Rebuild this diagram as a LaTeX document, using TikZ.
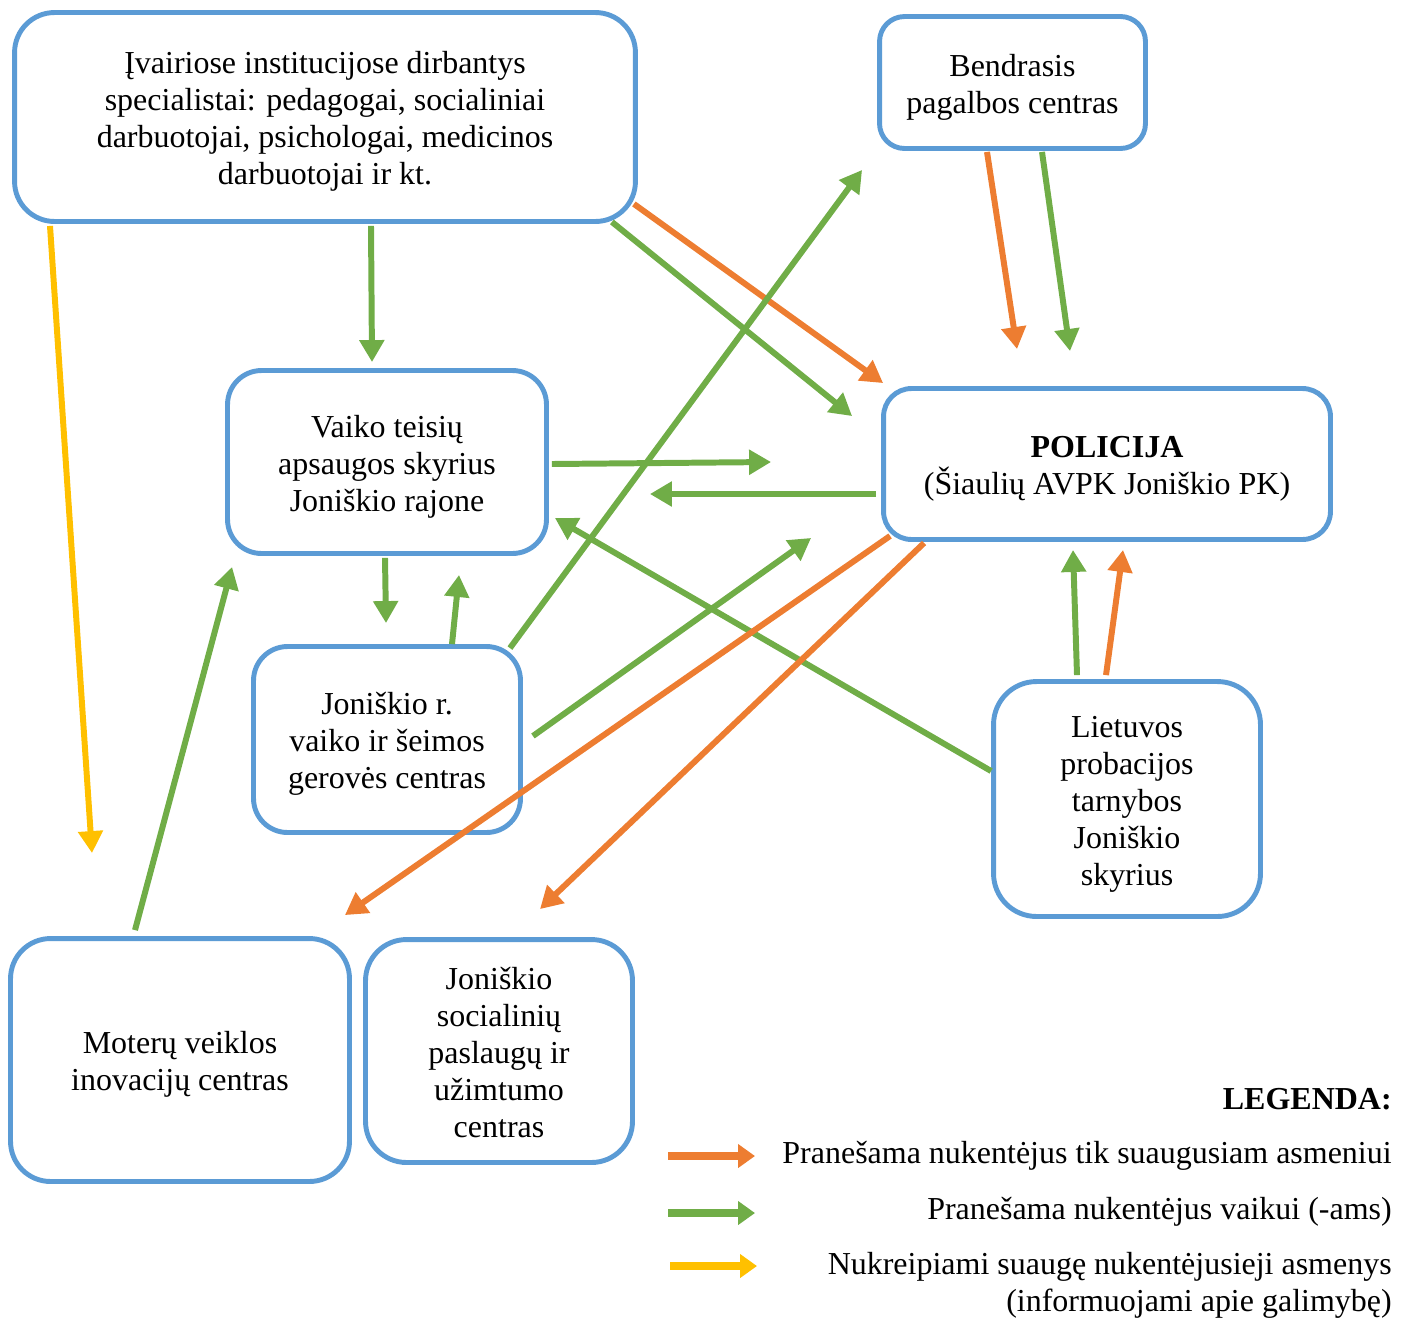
\documentclass[tikz,border=0pt]{standalone}
\usepackage{fontspec}
\setmainfont{Liberation Serif}
\usepackage{xcolor}
\usepackage{tikz}
\usetikzlibrary{arrows.meta, calc, positioning}
\definecolor{boxblue}{HTML}{5B9BD5}
\definecolor{aorange}{HTML}{ED7D31}
\definecolor{agreen}{HTML}{70AD47}
\definecolor{ayellow}{HTML}{FFC000}
\newcommand{\boxtop}{\rule{0pt}{19pt}}
\newcommand{\boxbot}{\rule[-5pt]{0pt}{5pt}}
\tikzstyle{box}=[draw=boxblue,line width=2.8pt,align=center,inner sep=0pt,fill=white]
\tikzstyle{link}=[line width=3.4pt,-{Triangle[length=0.44cm,width=0.48cm]}]
\tikzstyle{orange}=[link,draw=aorange,fill=aorange]
\tikzstyle{green}=[link,draw=agreen,fill=agreen]
\tikzstyle{yellow}=[link,draw=ayellow,fill=ayellow]
\tikzstyle{legarrow}=[line width=4.5pt,-{Triangle[length=0.34cm,width=0.46cm]}]
\tikzstyle{legtext}=[anchor=east,inner sep=0pt,align=right]

\begin{document}
\begin{tikzpicture}[x=0.02cm,y=-0.02cm,font=\fontsize{18.2}{21}\selectfont]
    \useasboundingbox (0,0) rectangle (1408,1319);

    % boxes
    \node[box, rounded corners=0.8cm, minimum width=12.42cm, minimum height=4.18cm] (spec) at (325,117)
        {\boxtop Įvairiose institucijose dirbantys\\specialistai: pedagogai, socialiniai\\darbuotojai, psichologai, medicinos\\darbuotojai ir kt.\boxbot};
    \node[box, rounded corners=0.5cm, minimum width=5.32cm, minimum height=2.64cm] (bpc) at (1012.5,82.5)
        {\boxtop Bendrasis\\pagalbos centras\boxbot};
    \node[box, rounded corners=0.68cm, minimum width=6.38cm, minimum height=3.66cm] (vtas) at (387,462)
        {\boxtop Vaiko teisių\\apsaugos skyrius\\Joniškio rajone\boxbot};
    \node[box, rounded corners=0.56cm, minimum width=8.94cm, minimum height=3.02cm] (pol) at (1107,464)
        {\boxtop\textbf{POLICIJA}\\(Šiaulių AVPK Joniškio PK)\boxbot};
    \node[box, rounded corners=0.68cm, minimum width=5.34cm, minimum height=3.72cm] (vsgc) at (387,739.5)
        {\boxtop Joniškio r.\\vaiko ir šeimos\\gerovės centras\boxbot};
    \node[box, rounded corners=0.86cm, minimum width=5.34cm, minimum height=4.7cm] (prob) at (1127,799)
        {\boxtop Lietuvos\\probacijos\\tarnybos\\Joniškio\\skyrius\boxbot};
    \node[box, rounded corners=0.8cm, minimum width=6.78cm, minimum height=4.86cm] (mvic) at (180,1060)
        {\boxtop Moterų veiklos\\inovacijų centras\boxbot};
    \node[box, rounded corners=0.82cm, minimum width=5.34cm, minimum height=4.46cm] (spuc) at (499,1051)
        {\boxtop Joniškio\\socialinių\\paslaugų ir\\užimtumo\\centras\boxbot};

    % connectors
    \draw[yellow] ($(spec.south)+(-275,2)$) -- ($(mvic.north)+(-88,-83)$);
    \draw[green] ($(spec.south)+(46,2)$) -- ($(vtas.north)+(-15,-6)$);
    \draw[orange] ($(spec.south east)+(-4,-20)$) -- ($(pol.north west)+(2,-3)$);
    \draw[green] ($(spec.south east)+(-26,-2)$) -- ($(pol.north west)+(-29,30)$);
    \draw[green] ($(vsgc.north east)+(-13,4)$) -- ($(bpc.south west)+(-15,19)$);
    \draw[orange] ($(bpc.south)+(-25.5,1)$) -- ($(pol.north)+(-90,-37)$);
    \draw[green] ($(bpc.south)+(29.5,1)$) -- ($(pol.north)+(-37,-35)$);
    \draw[green] ($(vtas.east)+(3,2)$) -- ($(pol.west)+(-110,-2)$);
    \draw[green] ($(pol.west)+(-5,30)$) -- ($(vtas.east)+(101,32)$);
    \draw[green] ($(prob.west)+(0,-28)$) -- ($(vtas.east)+(6,56)$);
    \draw[green] ($(vsgc.east)+(10,-3.5)$) -- ($(pol.south west)+(-70,-4)$);
    \draw[orange] ($(pol.south west)+(9,-6)$) -- ($(mvic.north east)+(-7,-21)$);
    \draw[orange] ($(pol.south west)+(43,1)$) -- ($(spuc.north)+(41,-28)$);
    \draw[green] ($(prob.north)+(-50,-4)$) -- ($(pol.south)+(-34,8)$);
    \draw[orange] ($(prob.north)+(-21,-4)$) -- ($(pol.south)+(16,8)$);
    \draw[green] ($(vtas.south)+(-2,2)$) -- ($(vsgc.north)+(-1,-21)$);
    \draw[green] ($(vsgc.north)+(65,0)$) -- ($(vtas.south)+(72,19)$);
    \draw[green] ($(mvic.north)+(-45,-6)$) -- ($(vtas.south west)+(7,11)$);

    % legend
    \node[legtext] (leg) at (1392,1099) {\textbf{LEGENDA:}};
    \node[legtext] (lorange) at (1392,1156) {Pranešama nukentėjus tik suaugusiam asmeniui};
    \node[legtext] (lgreen) at (1392,1212) {Pranešama nukentėjus vaikui (-ams)};
    \node[legtext] (lyellow) at (1392,1285)
        {Nukreipiami suaugę nukentėjusieji asmenys\\(informuojami apie galimybę)};
    \coordinate (lo1) at (668,1156);
    \coordinate (lo2) at (755,1156);
    \coordinate (lg1) at (668,1213);
    \coordinate (lg2) at (755,1213);
    \coordinate (ly1) at (670,1266);
    \coordinate (ly2) at (757,1266);
    \draw[legarrow, draw=aorange, fill=aorange] (lo1) -- (lo2);
    \draw[legarrow, draw=agreen, fill=agreen] (lg1) -- (lg2);
    \draw[legarrow, draw=ayellow, fill=ayellow] (ly1) -- (ly2);
\end{tikzpicture}
\end{document}
